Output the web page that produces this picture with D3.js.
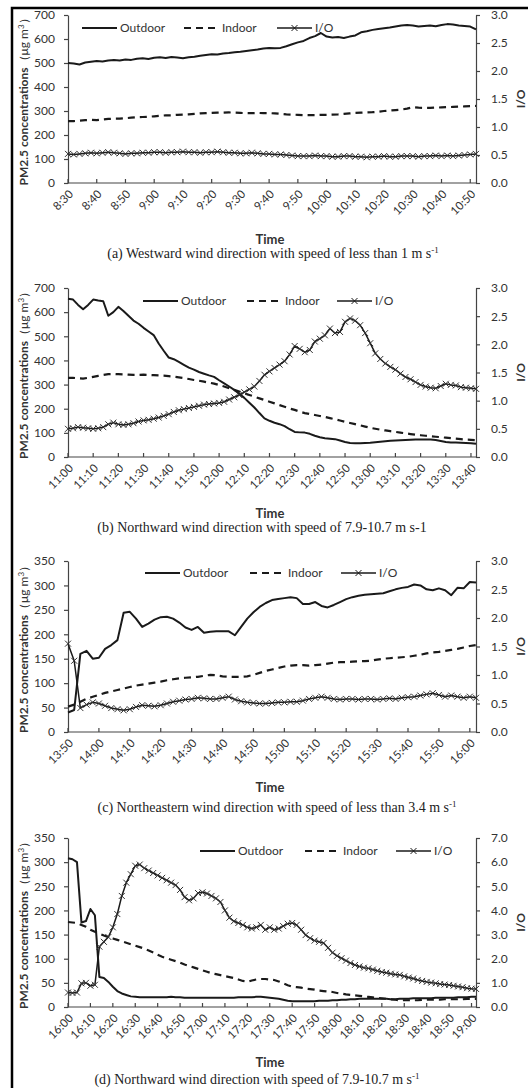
<!DOCTYPE html>
<html>
<head>
<meta charset="utf-8">
<script src="https://cdn.jsdelivr.net/npm/d3@7"></script>
<style>
  body { margin: 0; background: #fff; }
  svg text { font-family: Lato, "Noto Sans", sans-serif; fill: #333; }
</style>
</head>
<body>
<div id="chart"></div>
<script>
// values are read every 2 minutes from the start of each panel

// (a) 8:30 - 10:50
const aTicks = ["8:30","8:40","8:50","9:00","9:10","9:20","9:30","9:40","9:50","10:00","10:10","10:20","10:30","10:40","10:50"];
const aOutdoor = [500,498,494,502,505,508,506,510,512,510,
  515,513,518,520,517,522,524,521,525,523,
  520,524,526,530,533,536,535,540,542,545,
  547,550,553,556,560,562,561,563,570,578,
  586,592,604,612,625,610,606,608,604,610,
  615,628,632,638,642,645,648,652,656,658,
  656,652,654,656,653,658,662,660,656,654,
  652,640];
const aIndoor = [258,258,260,262,263,262,265,267,268,268,
  270,272,274,275,276,278,280,282,282,284,
  285,286,288,290,291,292,293,293,294,293,
  292,291,291,292,291,291,290,288,286,285,
  284,283,283,283,284,284,285,286,288,290,
  292,293,294,295,297,300,302,304,306,310,
  316,314,313,313,314,315,316,317,318,319,
  320,321];
const aIO = [0.52,0.51,0.52,0.53,0.54,0.53,0.54,0.55,0.54,0.53,
  0.52,0.53,0.53,0.54,0.54,0.55,0.55,0.54,0.55,0.55,
  0.56,0.55,0.55,0.54,0.55,0.55,0.56,0.55,0.54,0.54,
  0.53,0.53,0.54,0.53,0.52,0.52,0.51,0.51,0.50,0.49,
  0.48,0.48,0.48,0.49,0.48,0.48,0.47,0.47,0.48,0.48,
  0.47,0.47,0.46,0.47,0.47,0.48,0.47,0.47,0.48,0.48,
  0.48,0.47,0.48,0.48,0.49,0.48,0.49,0.48,0.49,0.50,
  0.51,0.52];

// (b) 11:00 - 13:40
const bTicks = ["11:00","11:10","11:20","11:30","11:40","11:50","12:00","12:10","12:20","12:30","12:40","12:50","13:00","13:10","13:20","13:30","13:40"];
const bOutdoor = [655,652,630,612,630,652,648,645,585,600,
  622,605,585,565,552,535,520,505,470,440,
  412,405,394,382,370,362,352,345,338,332,
  318,305,292,278,262,245,225,205,182,160,
  150,142,136,128,115,104,102,101,96,88,
  82,78,76,74,68,62,58,57,57,58,
  59,61,63,65,67,68,69,70,71,72,
  73,73,72,70,66,62,60,60,59,58,
  57,55];
const bIndoor = [328,328,326,325,328,332,336,340,343,344,
  343,342,341,340,340,341,340,339,338,337,
  335,333,330,327,323,319,316,312,308,304,
  298,292,285,278,271,264,257,250,243,236,
  229,222,215,208,201,195,188,182,178,174,
  170,166,161,156,151,146,141,136,131,126,
  121,117,113,110,107,104,101,98,95,92,
  90,88,86,84,82,80,78,76,74,72,
  71,70];
const bIO = [0.50,0.51,0.53,0.52,0.51,0.50,0.51,0.53,0.58,0.61,
  0.58,0.57,0.58,0.60,0.63,0.65,0.66,0.68,0.70,0.73,
  0.76,0.80,0.83,0.85,0.87,0.89,0.91,0.93,0.94,0.95,
  0.96,0.98,1.02,1.06,1.10,1.15,1.20,1.25,1.35,1.46,
  1.52,1.58,1.64,1.70,1.82,1.97,1.92,1.86,1.90,2.05,
  2.10,2.16,2.28,2.20,2.22,2.40,2.46,2.42,2.34,2.20,
  2.02,1.84,1.74,1.66,1.60,1.55,1.48,1.42,1.38,1.33,
  1.28,1.25,1.23,1.22,1.26,1.30,1.28,1.27,1.24,1.23,
  1.22,1.21];

// (c) 13:50 - 16:00
const cTicks = ["13:50","14:00","14:10","14:20","14:30","14:40","14:50","15:00","15:10","15:20","15:30","15:40","15:50","16:00"];
const cOutdoor = [40,45,160,166,150,152,170,178,188,244,
  246,232,215,222,230,235,236,232,224,214,
  209,215,203,205,206,206,206,198,215,232,
  245,256,264,270,272,274,276,274,262,262,
  266,258,255,260,266,272,276,279,281,282,
  283,284,288,292,295,297,302,300,292,290,
  294,290,280,295,294,307,306];
const cIndoor = [52,56,62,68,72,76,80,83,86,89,
  92,95,97,99,101,103,106,108,110,111,
  112,113,115,117,116,114,113,113,113,114,
  117,121,125,128,131,134,136,137,137,136,
  137,138,140,142,143,143,144,145,145,146,
  148,150,151,152,153,154,156,158,161,163,
  164,166,168,170,173,176,178];
const cIO = [1.55,1.25,0.42,0.48,0.52,0.50,0.46,0.42,0.40,0.38,
  0.40,0.44,0.47,0.46,0.45,0.47,0.50,0.53,0.55,0.57,
  0.58,0.60,0.59,0.58,0.58,0.60,0.62,0.57,0.54,0.52,
  0.51,0.50,0.50,0.51,0.52,0.52,0.53,0.53,0.55,0.58,
  0.60,0.62,0.60,0.58,0.57,0.58,0.58,0.57,0.58,0.58,
  0.57,0.58,0.59,0.58,0.60,0.61,0.62,0.64,0.66,0.68,
  0.65,0.62,0.64,0.62,0.60,0.62,0.60];

// (d) 16:00 - 19:00
const dTicks = ["16:00","16:10","16:20","16:30","16:40","16:50","17:00","17:10","17:20","17:30","17:40","17:50","18:00","18:10","18:20","18:30","18:40","18:50","19:00"];
const dOutdoor = [308,306,300,175,178,203,190,62,60,52,
  42,33,28,25,22,21,20,20,20,20,
  20,20,20,21,20,20,19,19,19,19,
  19,19,19,19,19,19,19,19,20,20,
  20,20,21,21,20,19,18,17,15,13,
  12,12,12,12,12,12,13,13,13,14,
  14,15,15,16,16,17,17,17,17,17,
  17,17,16,16,17,17,17,18,18,18,
  18,18,19,19,19,19,19,20,20,20,
  21,21];
const dIndoor = [176,175,174,170,166,160,156,152,148,145,
  142,139,136,133,130,127,124,121,117,113,
  108,104,101,98,95,92,88,85,82,79,
  76,73,70,68,66,64,62,60,57,54,
  52,55,57,58,58,57,56,53,49,45,
  42,41,40,38,37,36,34,33,32,31,
  29,28,26,25,24,23,22,21,20,19,
  18,17,16,15,14,14,14,14,14,15,
  15,15,15,15,16,16,16,16,16,17,
  17,17];
const dIO = [0.60,0.58,0.60,0.98,1.00,0.88,0.92,2.50,2.70,2.90,
  3.30,3.85,4.60,5.15,5.50,5.85,5.90,5.75,5.65,5.55,
  5.45,5.35,5.25,5.15,5.05,4.85,4.55,4.42,4.50,4.72,
  4.75,4.70,4.60,4.50,4.35,4.00,3.70,3.55,3.48,3.40,
  3.30,3.25,3.30,3.40,3.20,3.30,3.20,3.25,3.35,3.45,
  3.48,3.40,3.20,2.98,2.85,2.75,2.70,2.65,2.45,2.25,
  2.12,2.02,1.92,1.82,1.74,1.68,1.63,1.60,1.55,1.50,
  1.45,1.42,1.38,1.35,1.33,1.27,1.22,1.18,1.12,1.08,
  1.04,1.01,0.98,0.95,0.93,0.91,0.88,0.85,0.82,0.78,
  0.76,0.75];

const seriesNames = ["Outdoor", "Indoor", "I/O"];
const captions = [
  ["(a)  Westward wind direction with speed of less than 1 m s", "-1"],
  ["(b)  Northward wind direction with speed of 7.9-10.7 m s-1", ""],
  ["(c)  Northeastern wind direction with speed of less than 3.4 m s", "-1"],
  ["(d)  Northward wind direction with speed of 7.9-10.7 m s", "-1"]
];

const panels = [
  { ticks: aTicks, outdoor: aOutdoor, indoor: aIndoor, io: aIO, yMax: 700, yStep: 100, rMax: 3, rStep: 0.5,
    xEnd: 142, top: 15, bottom: 183, legY: 28, legX: [82, 184, 277], timeY: 239, capY: 253, capX: 273 },
  { ticks: bTicks, outdoor: bOutdoor, indoor: bIndoor, io: bIO, yMax: 700, yStep: 100, rMax: 3, rStep: 0.5,
    xEnd: 162, top: 288, bottom: 457, legY: 301, legX: [143, 247, 337], timeY: 513, capY: 527, capX: 262 },
  { ticks: cTicks, outdoor: cOutdoor, indoor: cIndoor, io: cIO, yMax: 350, yStep: 50, rMax: 3, rStep: 0.5,
    xEnd: 132, top: 561, bottom: 732, legY: 573, legX: [145, 250, 341], timeY: 787, capY: 807, capX: 277 },
  { ticks: dTicks, outdoor: dOutdoor, indoor: dIndoor, io: dIO, yMax: 350, yStep: 50, rMax: 7, rStep: 1,
    xEnd: 182, top: 838, bottom: 1007, legY: 851, legX: [200, 305, 396], timeY: 1062, capY: 1079, capX: 257 }
];

const W = 528, H = 1088;
const left = 68, right = 476;
const ink = "#1a1a1a";

const svg = d3.select("#chart").append("svg")
  .attr("width", W)
  .attr("height", H);

// frame of the scanned figure
svg.append("path")
  .attr("d", "M12,1095V8H535")
  .attr("fill", "none")
  .attr("stroke", "#000")
  .attr("stroke-width", 2.5);

const cross = "M-3,-3L3,3M-3,3L3,-3";

panels.forEach((p, k) => {
  const g = svg.append("g");
  const x = d3.scaleLinear().domain([0, p.xEnd]).range([left, right]);
  const yL = d3.scaleLinear().domain([0, p.yMax]).range([p.bottom, p.top]);
  const yR = d3.scaleLinear().domain([0, p.rMax]).range([p.bottom, p.top]);

  // left axis
  const la = g.append("g").attr("transform", `translate(${left},0)`)
    .call(d3.axisLeft(yL).tickValues(d3.range(0, p.yMax + 1, p.yStep)).tickSize(4).tickSizeOuter(0).tickPadding(9));
  // right axis
  const ra = g.append("g").attr("transform", `translate(${right},0)`)
    .call(d3.axisRight(yR).tickValues(d3.range(0, p.rMax + 0.001, p.rStep)).tickFormat(d3.format(".1f"))
      .tickSize(4).tickSizeOuter(0).tickPadding(11));
  [la, ra].forEach(a => {
    a.select(".domain").attr("stroke", "#444").attr("stroke-width", 1.2);
    a.selectAll(".tick line").attr("stroke", "#444").attr("stroke-width", 1.2);
    a.selectAll(".tick text").attr("font-size", 12).attr("fill", "#333")
      .attr("font-family", "Lato, 'Noto Sans', sans-serif");
  });

  // x axis, ticks every 10 minutes pointing inward
  const tickMin = p.ticks.map((t, i) => i * 10);
  g.append("line").attr("x1", left).attr("x2", right).attr("y1", p.bottom).attr("y2", p.bottom)
    .attr("stroke", "#444").attr("stroke-width", 1.2);
  g.selectAll(".xt").data(tickMin).join("line")
    .attr("x1", d => x(d)).attr("x2", d => x(d))
    .attr("y1", p.bottom).attr("y2", p.bottom - 4)
    .attr("stroke", "#444").attr("stroke-width", 1.2);
  g.selectAll(".xl").data(p.ticks).join("text")
    .attr("transform", (d, i) => `translate(${x(tickMin[i]) + 3},${p.bottom + 9}) rotate(-45)`)
    .attr("text-anchor", "end")
    .attr("dy", "0.35em")
    .attr("font-size", 11.5)
    .text(d => d);

  // series
  const line = sc => d3.line().x((d, i) => x(i * 2)).y(d => sc(d));
  g.append("path").datum(p.indoor).attr("d", line(yL))
    .attr("fill", "none").attr("stroke", ink).attr("stroke-width", 2.2).attr("stroke-dasharray", "7,5");
  g.append("path").datum(p.outdoor).attr("d", line(yL))
    .attr("fill", "none").attr("stroke", ink).attr("stroke-width", 2).attr("stroke-linejoin", "round");
  g.append("path").datum(p.io).attr("d", line(yR))
    .attr("fill", "none").attr("stroke", ink).attr("stroke-width", 1.5).attr("stroke-linejoin", "round");
  g.selectAll(".mk").data(p.io).join("path")
    .attr("d", cross)
    .attr("transform", (d, i) => `translate(${x(i * 2)},${yR(d)})`)
    .attr("fill", "none").attr("stroke", "#333").attr("stroke-width", 1);

  // legend
  const lg = g.append("g");
  p.legX.forEach((lx, j) => {
    const seg = lg.append("line").attr("x1", lx).attr("x2", lx + 35).attr("y1", p.legY).attr("y2", p.legY)
      .attr("stroke", ink).attr("stroke-width", j === 2 ? 1.4 : 2.1);
    if (j === 1) seg.attr("stroke-dasharray", "7,5");
    if (j === 2) lg.append("path").attr("d", cross).attr("transform", `translate(${lx + 17.5},${p.legY})`)
      .attr("fill", "none").attr("stroke", ink).attr("stroke-width", 1);
    lg.append("text").attr("x", lx + 38).attr("y", p.legY).attr("dy", "0.35em")
      .attr("font-size", 12).text(seriesNames[j]);
  });

  // axis titles
  const mid = (p.top + p.bottom) / 2;
  const yt = g.append("text").attr("transform", `translate(24,${mid}) rotate(-90)`)
    .attr("text-anchor", "middle").attr("dy", "0.35em").attr("font-size", 12);
  yt.append("tspan").attr("font-weight", "bold").text("PM2.5 concentrations");
  yt.append("tspan").text("（μg m");
  yt.append("tspan").attr("font-size", 8).attr("dy", "-0.5em").text("3");
  yt.append("tspan").attr("dy", "0.35em").text("）");

  g.append("text").attr("transform", `translate(521,${mid}) rotate(-90)`)
    .attr("text-anchor", "middle").attr("dy", "0.35em").attr("font-size", 12)
    .attr("font-weight", "bold").text("I/O");

  g.append("text").attr("x", 270).attr("y", p.timeY).attr("dy", "0.35em")
    .attr("text-anchor", "middle").attr("font-size", 13).attr("font-weight", "bold").text("Time");

  const cap = g.append("text").attr("x", p.capX).attr("y", p.capY).attr("dy", "0.35em")
    .attr("text-anchor", "middle").attr("font-size", 14)
    .style("font-family", "'Liberation Serif', 'DejaVu Serif', serif").style("fill", "#222");
  cap.append("tspan").text(captions[k][0]);
  if (captions[k][1]) cap.append("tspan").attr("font-size", 9).attr("dy", "-0.6em").text(captions[k][1]);
});
</script>
</body>
</html>
